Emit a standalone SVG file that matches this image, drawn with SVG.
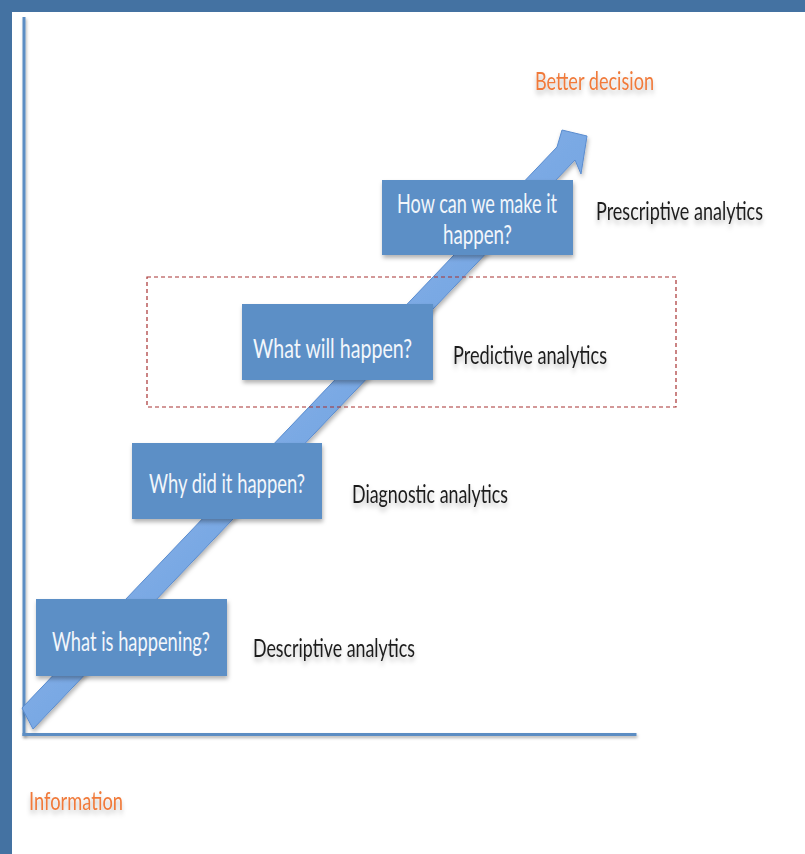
<svg xmlns="http://www.w3.org/2000/svg" width="805" height="854" viewBox="0 0 805 854">
  <style>
    .box { fill: #5b8fc6; filter: url(#shadow); }
    .boxtxt { font-family: Lato, "Open Sans", sans-serif; font-size: 20px; fill: #f2f6fb; }
    .lbl { font-family: Lato, "Open Sans", sans-serif; font-size: 19.5px; fill: #1c1c1c; filter: url(#tshadow); }
    .orange { font-family: Lato, "Open Sans", sans-serif; font-size: 19.5px; fill: #f07a3a; filter: url(#tshadow); }
    .axis { fill: #5b8dc3; filter: url(#ashadow); }
  </style>
  <defs>
    <filter id="shadow" x="-10%" y="-10%" width="130%" height="140%">
      <feDropShadow dx="1" dy="3" stdDeviation="2" flood-color="#000" flood-opacity="0.3"/>
    </filter>
    <filter id="ashadow" filterUnits="userSpaceOnUse" x="0" y="0" width="805" height="854">
      <feDropShadow dx="1" dy="2" stdDeviation="1.5" flood-color="#000" flood-opacity="0.3"/>
    </filter>
    <filter id="tshadow" x="-10%" y="-20%" width="130%" height="160%">
      <feDropShadow dx="0" dy="3" stdDeviation="2" flood-color="#000" flood-opacity="0.25"/>
    </filter>
    <linearGradient id="arrowGrad" x1="0" y1="0" x2="1" y2="1">
      <stop offset="0" stop-color="#a8c8f0"/>
      <stop offset="0.5" stop-color="#7aa9e4"/>
      <stop offset="1" stop-color="#5d8fd6"/>
    </linearGradient>
  </defs>

  <rect x="0" y="0" width="805" height="854" fill="#ffffff"/>
  <rect x="0" y="0" width="805" height="12" fill="#4472a2"/>
  <rect x="0" y="0" width="12" height="854" fill="#4472a2"/>

  <g id="axes">
    <rect class="axis" x="22.5" y="17" width="3" height="719"/>
    <rect class="axis" x="22.5" y="733" width="614" height="3"/>
  </g>

  <g id="connectors">
    <polygon points="22,708 557,147 562,130 587,136 581,174 575,160 33,729" fill="url(#arrowGrad)" stroke="#5a8ccf" stroke-width="1" filter="url(#shadow)"/>
  </g>

  <g id="node-descriptive">
    <rect class="box" x="36" y="599" width="191" height="77"/>
    <text class="boxtxt" transform="translate(52,651) scale(1,1.3)" textLength="158" lengthAdjust="spacingAndGlyphs">What is happening?</text>
    <text class="lbl" transform="translate(253,657) scale(1,1.3)" textLength="162" lengthAdjust="spacingAndGlyphs">Descriptive analytics</text>
  </g>

  <g id="node-diagnostic">
    <rect class="box" x="132" y="443" width="190" height="76"/>
    <text class="boxtxt" transform="translate(149,493) scale(1,1.3)" textLength="156" lengthAdjust="spacingAndGlyphs">Why did it happen?</text>
    <text class="lbl" transform="translate(352,503) scale(1,1.3)" textLength="156" lengthAdjust="spacingAndGlyphs">Diagnostic analytics</text>
  </g>

  <g id="node-predictive">
    <rect x="147" y="277" width="529" height="130" fill="none" stroke="#a83232" stroke-width="1.2" stroke-dasharray="4 3"/>
    <rect class="box" x="242" y="304" width="191" height="76"/>
    <text class="boxtxt" transform="translate(253,358) scale(1,1.3)" textLength="159" lengthAdjust="spacingAndGlyphs">What will happen?</text>
    <text class="lbl" transform="translate(453,364) scale(1,1.3)" textLength="154" lengthAdjust="spacingAndGlyphs">Predictive analytics</text>
  </g>

  <g id="node-prescriptive">
    <rect class="box" x="382" y="180" width="191" height="75"/>
    <text class="boxtxt" transform="translate(397,213) scale(1,1.3)" textLength="160" lengthAdjust="spacingAndGlyphs">How can we make it</text>
    <text class="boxtxt" transform="translate(443,244) scale(1,1.3)" textLength="69" lengthAdjust="spacingAndGlyphs">happen?</text>
    <text class="lbl" transform="translate(596,220) scale(1,1.3)" textLength="167" lengthAdjust="spacingAndGlyphs">Prescriptive analytics</text>
  </g>

  <g id="label-better">
    <text class="orange" transform="translate(535,90) scale(1,1.3)" textLength="119" lengthAdjust="spacingAndGlyphs">Better decision</text>
  </g>
  <g id="label-information">
    <text class="orange" transform="translate(29,810) scale(1,1.3)" textLength="94" lengthAdjust="spacingAndGlyphs">Information</text>
  </g>
</svg>
